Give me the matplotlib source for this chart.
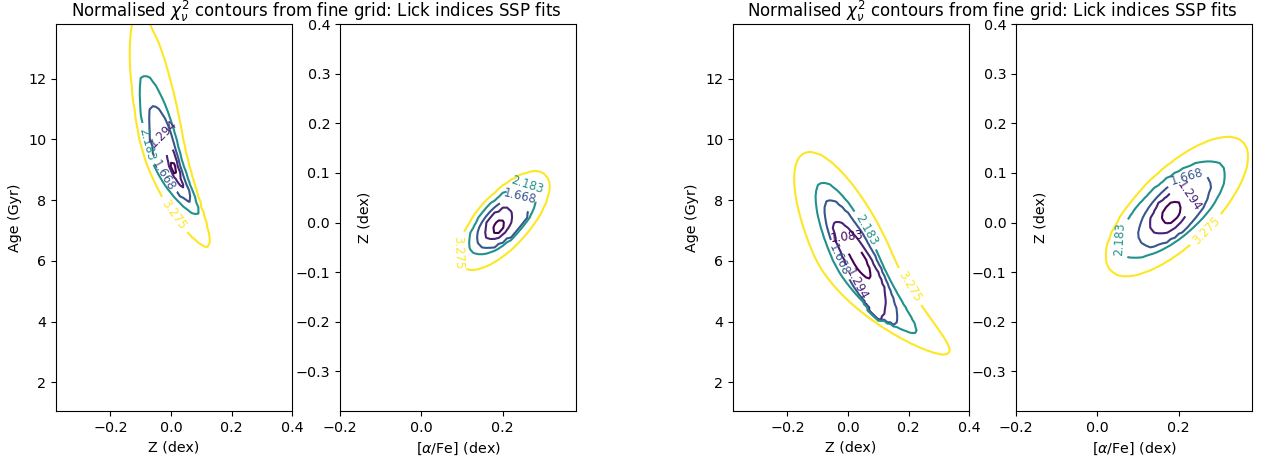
"""Normalised chi2 contours (Lick indices SSP fits) - two fits, age/Z and alpha/Z planes"""
import numpy as np, matplotlib
matplotlib.use("Agg")
import matplotlib.pyplot as plt
from matplotlib.ticker import MultipleLocator

LEVELS = [1.083, 1.294, 1.668, 2.183, 3.275]
CHI2_MIN = 1.0

# model grid (log age in yr, Z and [alpha/Fe] in dex)
LOGAGE_RANGE = (9.02, 10.14)
Z_RANGE = (-0.38, 0.40)
AFE_RANGE = (-0.20, 0.38)
STEP = 0.01

# contour shapes, one row per level:
# centre x, centre y, half-width x, half-height y, tilt, bend of lower half
FIT1_AGE_Z = [
    [0.008, 9.05, 0.011, 0.25, -0.50, 0.0],
    [0.0035, 9.36, 0.0333, 1.04, -0.885, 0.008],
    [-0.021, 9.55, 0.0552, 1.62, -0.688, 0.046],
    [-0.0285, 9.82, 0.0786, 2.33, -0.744, 0.056],
    [-0.037, 10.30, 0.099, 3.85, -0.687, 0.087],
]
FIT1_AFE_Z = [
    [0.19, -0.008, 0.0145, 0.015, 0.4, 0.0],
    [0.189, -0.003, 0.037, 0.034, 0.5, 0.0],
    [0.2025, 0.001, 0.0675, 0.054, 0.6, 0.0],
    [0.199, 0.0065, 0.084, 0.0715, 0.67, 0.0],
    [0.2025, 0.004, 0.112, 0.099, 0.7, 0.0],
]
FIT2_AGE_Z = [
    [0.03, 6.15, 0.047, 0.75, -0.85, 0.0],
    [0.05, 5.685, 0.1007, 1.645, -0.874, -0.037],
    [0.037, 5.96, 0.116, 2.08, -0.835, 0.017],
    [0.025, 6.10, 0.133, 2.50, -0.804, 0.086],
    [0.015, 6.25, 0.193, 3.33, -0.735, 0.16],
]
FIT2_AFE_Z = [
    [0.1825, 0.02, 0.0245, 0.023, 0.4, 0.0],
    [0.179, 0.0205, 0.051, 0.0455, 0.5, 0.0],
    [0.19, 0.025, 0.09, 0.075, 0.65, 0.0],
    [0.1825, 0.0265, 0.1325, 0.0985, 0.7, 0.0],
    [0.196, 0.0325, 0.174, 0.14, 0.72, 0.0],
]

TITLE = r"Normalised $\chi^2_\nu$ contours from fine grid: Lick indices SSP fits"


def radius(X, Y, p):
    cx, cy, sx, sy, rho, bend = p
    v = (Y - cy) / sy
    u = (X - cx - bend * np.minimum(v, 0)**2) / sx
    return np.sqrt((u*u - 2*rho*u*v + v*v) / (1 - rho**2))


def chi2_surface(X, Y, shapes):
    R = [radius(X, Y, p) for p in shapes]
    val = LEVELS[-1] + 2.0 * (R[-1] - 1)
    with np.errstate(divide="ignore", invalid="ignore"):
        for i in range(len(LEVELS) - 2, -1, -1):
            a, b = R[i] - 1, 1 - R[i+1]
            t = a / (a + b)
            m = (R[i+1] <= 1) & (R[i] > 1)
            val = np.where(m, LEVELS[i] + (LEVELS[i+1] - LEVELS[i]) * t, val)
    val = np.where(R[0] <= 1, CHI2_MIN + (LEVELS[0] - CHI2_MIN) * R[0]**2, val)
    return val


def grid(lo, hi):
    return np.arange(lo, hi + STEP/2, STEP)


zz = grid(*Z_RANGE)
aa = grid(*AFE_RANGE)
age = 10**grid(*LOGAGE_RANGE) / 1e9

# where the contour labels sit in each panel
label_pos = [
    [(-0.076, 9.85), (-0.023, 10.2), (-0.027, 8.8), (0.008, 7.5)],
    [(0.259, 0.074), (0.243, 0.054), (0.078, -0.06)],
    [(0.057, 7.0), (-0.004, 6.78), (-0.032, 6.01), (0.046, 5.25), (0.184, 5.03)],
    [(0.22, 0.094), (0.248, 0.064), (0.072, -0.04), (0.277, -0.024)],
]

fs = 10.3
fig = plt.figure(figsize=(12.61, 4.62), dpi=100)
W, B, H = 0.1872, 0.110, 0.838
lefts = [0.0444, 0.2696, 0.5813, 0.8057]

panels = [(FIT1_AGE_Z, "age"), (FIT1_AFE_Z, "afe"), (FIT2_AGE_Z, "age"), (FIT2_AFE_Z, "afe")]
for k, (shapes, kind) in enumerate(panels):
    ax = fig.add_axes([lefts[k], B, W, H])
    if kind == "age":
        X, Y = np.meshgrid(zz, age)
    else:
        X, Y = np.meshgrid(aa, zz)
    C = chi2_surface(X, Y, shapes)
    cs = ax.contour(X, Y, C, levels=LEVELS, cmap="viridis", linewidths=1.5)
    ax.clabel(cs, inline=True, fontsize=8.5, fmt="%.3f", manual=label_pos[k])
    ax.tick_params(labelsize=fs)
    if kind == "age":
        ax.set_xlabel("Z (dex)", fontsize=fs)
        ax.set_ylabel("Age (Gyr)", fontsize=fs)
    else:
        ax.xaxis.set_major_locator(MultipleLocator(0.2))
        ax.set_xlabel(r"[$\alpha$/Fe] (dex)", fontsize=fs)
        ax.set_ylabel("Z (dex)", fontsize=fs)
        ax.yaxis.set_label_coords(0.135, 0.5)

for xc in [0.2506, 0.7868]:
    fig.text(xc, 0.963, TITLE, ha="center", va="baseline", fontsize=12.0)

fig.savefig("out.png", dpi=100)
